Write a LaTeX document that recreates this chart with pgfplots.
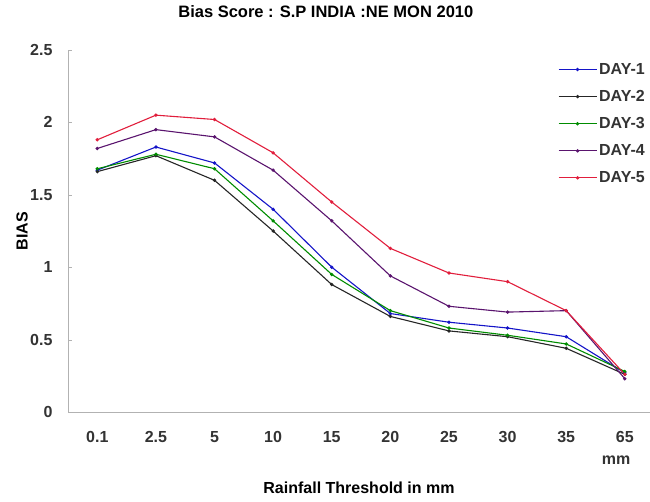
\documentclass[border=0pt]{standalone}
\usepackage{fontspec}
\setmainfont{Liberation Sans}
\usepackage{pgfplots}
\pgfplotsset{compat=1.18}
\definecolor{dayone}{RGB}{20,20,200}
\definecolor{daythree}{RGB}{0,140,0}
\definecolor{dayfour}{RGB}{90,20,110}
\definecolor{dayfive}{RGB}{225,30,60}
\newcommand{\lbl}{\bfseries\fontsize{16}{18}\selectfont}
\begin{document}
\begin{tikzpicture}
\begin{axis}[
    scale only axis,
    width=582pt, height=362pt,
    xmin=-0.5, xmax=9.43,
    ymin=0, ymax=2.5,
    xtick={0,...,9},
    xticklabels={0.1,2.5,5,10,15,20,25,30,35,65},
    ytick={0,0.5,1,1.5,2,2.5},
    yticklabels={0,0.5,1,1.5,2,2.5},
    axis x line*=bottom,
    axis y line*=left,
    axis line style={gray!60, line width=0.8pt},
    x tick style={draw=none},
    y tick style={gray!60},
    tick label style={font=\lbl, text=black!80},
    xticklabel style={anchor=center, yshift=-25pt},
    yticklabel style={anchor=east, xshift=-12pt},
    ylabel={BIAS},
    ylabel style={font=\lbl, at={([xshift=-46pt]axis description cs:0,0.5)}, anchor=center},
    xlabel={Rainfall Threshold in mm},
    xlabel style={font=\lbl, at={([yshift=-76pt]axis description cs:0.5,0)}, anchor=center},
    title={Bias Score : S.P INDIA :NE MON 2010},
    title style={font=\bfseries\fontsize{16.5}{18}\selectfont,
                 at={([yshift=32pt]axis description cs:0.443,1)}, anchor=center},
    legend style={draw=none, fill=none, at={(1,0.975)}, anchor=north east,
                  font=\lbl, row sep=10.5pt, text=black!80},
    legend image code/.code={\draw[#1, mark repeat=2, mark phase=2]
        plot coordinates {(0pt,0pt) (19pt,0pt) (38pt,0pt)};},
    legend cell align=left,
    every axis plot/.append style={line width=1.1pt, mark=*, mark size=1.1pt},
    clip=false,
]
\addplot[color=dayone, mark options={fill=dayone}] coordinates {
 (0,1.67) (1,1.83) (2,1.72) (3,1.40) (4,1.00) (5,0.68) (6,0.62) (7,0.58) (8,0.52) (9,0.27)};
\addlegendentry{DAY-1}
\addplot[color=black!85, mark options={fill=black}] coordinates {
 (0,1.66) (1,1.77) (2,1.60) (3,1.25) (4,0.88) (5,0.66) (6,0.56) (7,0.52) (8,0.44) (9,0.26)};
\addlegendentry{DAY-2}
\addplot[color=daythree, mark options={fill=daythree}] coordinates {
 (0,1.68) (1,1.78) (2,1.68) (3,1.32) (4,0.95) (5,0.70) (6,0.58) (7,0.53) (8,0.47) (9,0.28)};
\addlegendentry{DAY-3}
\addplot[color=dayfour, mark options={fill=dayfour}] coordinates {
 (0,1.82) (1,1.95) (2,1.90) (3,1.67) (4,1.32) (5,0.94) (6,0.73) (7,0.69) (8,0.70) (9,0.23)};
\addlegendentry{DAY-4}
\addplot[color=dayfive, mark options={fill=dayfive}] coordinates {
 (0,1.88) (1,2.05) (2,2.02) (3,1.79) (4,1.45) (5,1.13) (6,0.96) (7,0.90) (8,0.70) (9,0.26)};
\addlegendentry{DAY-5}
\node[font=\lbl, text=black!80] at (axis cs:8.85,0) [yshift=-48pt] {mm};
\coordinate (bl) at (rel axis cs:0,0);
\coordinate (tr) at (rel axis cs:1,1);
\end{axis}
\pgfresetboundingbox
\path ([shift={(-68pt,-89pt)}]bl) rectangle ([shift={(0pt,50pt)}]tr);
\end{tikzpicture}
\end{document}
